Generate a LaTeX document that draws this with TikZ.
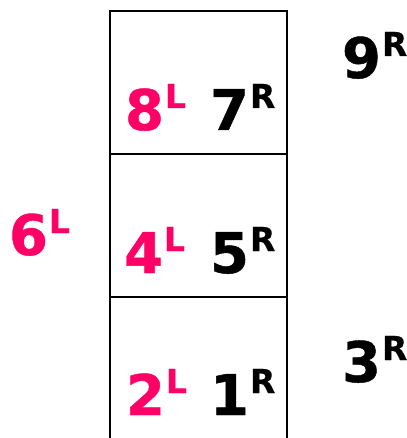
\documentclass[tikz,border=0pt]{standalone}
\usepackage{fontspec}
\setmainfont{DejaVu Sans}
\newfontfamily\heavyfont[FakeBold=0.8]{DejaVu Sans Bold}
\newfontfamily\supfont[FakeBold=0.4]{DejaVu Sans Bold}
\definecolor{pinkL}{HTML}{FF0066}
\newcommand{\mylab}[2]{{\fontsize{56}{56}\heavyfont #1}\kern1pt\raisebox{22pt}{\fontsize{33}{33}\supfont #2}}
\begin{document}
\begin{tikzpicture}[x=1pt,y=-1pt,
  boxline/.style={line width=2.8pt,black},
  lbl/.style={anchor=base west,inner sep=0pt,outer sep=0pt},
  pk/.style={lbl,text=pinkL},
  bk/.style={lbl,text=black}]
\useasboundingbox (0,0) rectangle (406,438);
\draw[boxline] (110,440) -- (110,11) -- (287,11) -- (287,440);
\draw[boxline] (110,154) -- (287,154);
\draw[boxline] (110,297) -- (287,297);
\node[pk] (n8) at (125,130) {\mylab{8}{L}};
\node[bk] (n7) at (210,130) {\mylab{7}{R}};
\node[pk] (n4) at (124,273) {\mylab{4}{L}};
\node[bk] (n5) at (210,273) {\mylab{5}{R}};
\node[pk] (n2) at (126,415) {\mylab{2}{L}};
\node[bk] (n1) at (210,415) {\mylab{1}{R}};
\node[pk] (n6) at (9,255) {\mylab{6}{L}};
\node[bk] (n9) at (342,78) {\mylab{9}{R}};
\node[bk] (n3) at (342,382) {\mylab{3}{R}};
\end{tikzpicture}
\end{document}
